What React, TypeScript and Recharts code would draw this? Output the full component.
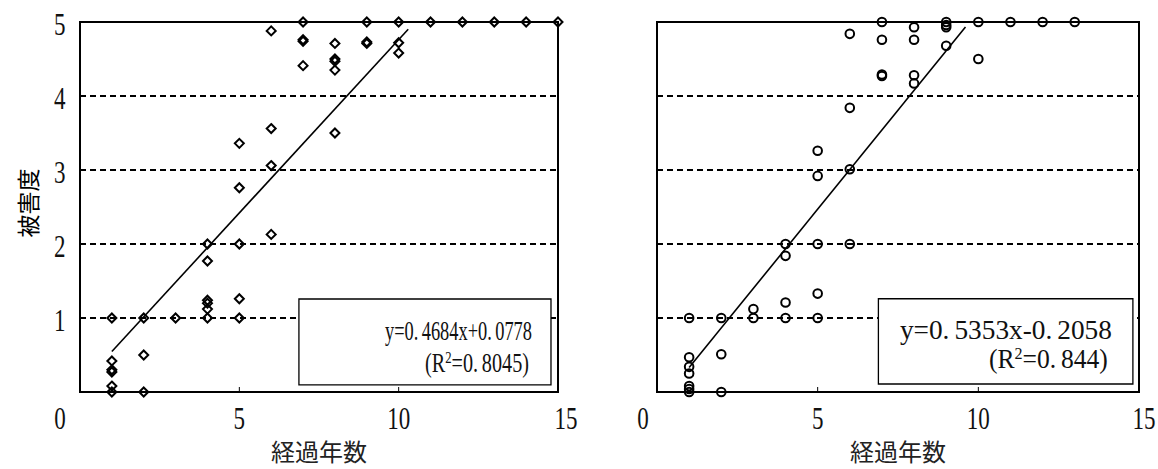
import React from "react"
import { ScatterChart, Scatter, XAxis, YAxis, CartesianGrid, ReferenceLine, ReferenceArea } from "recharts"

// axis ticks
const xTicks = [0, 5, 10, 15]
const yTicks = [0, 1, 2, 3, 4, 5]

// left panel (diamonds)
const diamondYears = [
  1, 1, 1, 1, 1, 1, 2, 2, 2, 3, 4, 4, 4, 4, 4, 4, 5, 5, 5, 5, 5, 6, 6, 6, 6,
  7, 7, 7, 7, 8, 8, 8, 8, 8, 9, 9, 9, 10, 10, 10, 11, 12, 13, 14, 15,
]
const diamondDamage = [
  1.0, 0.42, 0.3, 0.27, 0.08, 0.0, 1.0, 0.5, 0.0, 1.0, 2.0, 1.77, 1.24, 1.2, 1.12, 1.0,
  3.36, 2.76, 2.0, 1.26, 1.0, 4.88, 3.56, 3.06, 2.13, 5.0, 4.76, 4.74, 4.41,
  4.71, 4.5, 4.47, 4.35, 3.5, 5.0, 4.73, 4.71, 5.0, 4.72, 4.58, 5.0, 5.0, 5.0, 5.0, 5.0,
]
const diamondFit = [0.4684, 0.0778]
const diamondFitRange = [1, 10.3]
const diamondEquation = ["y=0.4684x+0.0778", "0.8045"]

// right panel (circles)
const circleYears = [
  1, 1, 1, 1, 1, 1, 1, 2, 2, 2, 3, 3, 4, 4, 4, 4, 5, 5, 5, 5, 5, 6, 6, 6, 6,
  7, 7, 7, 7, 8, 8, 8, 8, 9, 9, 9, 9, 10, 10, 11, 12, 13,
]
const circleDamage = [
  1.0, 0.47, 0.34, 0.25, 0.08, 0.04, 0.0, 1.0, 0.51, 0.0, 1.12, 1.0, 2.0, 1.84, 1.21, 1.0,
  3.26, 2.92, 2.0, 1.33, 1.0, 4.84, 3.84, 3.01, 2.0, 5.0, 4.76, 4.29, 4.27,
  4.93, 4.76, 4.28, 4.17, 5.0, 4.96, 4.93, 4.68, 5.0, 4.5, 5.0, 5.0, 5.0,
]
const circleFit = [0.5353, -0.2058]
const circleFitRange = [1, 9.6]
const circleEquation = ["y=0.5353x-0.2058", "0.844"]

const xTitle = "経過年数"
const yTitle = "被害度"

const SERIF = "'Liberation Serif', 'DejaVu Serif', serif"
const CJK = "'Noto Sans CJK JP', sans-serif"

const toPoints = (xs: number[], ys: number[]) => xs.map((x, i) => ({ x, y: ys[i] }))
const fitSegment = (fit: number[], range: number[]) =>
  range.map((x) => ({ x, y: fit[0] * x + fit[1] }))

const Diamond = (props: any) => {
  const { cx, cy } = props
  const r = 4.5
  return (
    <path
      d={`M${cx},${cy - r}L${cx + r},${cy}L${cx},${cy + r}L${cx - r},${cy}Z`}
      fill="none"
      stroke="#000"
      strokeWidth={2}
    />
  )
}

const Ring = (props: any) => (
  <circle cx={props.cx} cy={props.cy} r={4.3} fill="none" stroke="#000" strokeWidth={2} />
)

const makeXTick = (shift0: number, shift15: number) => (props: any) => {
  const { x, y, payload } = props
  const v = payload.value
  const label = String(v)
  const w = label.length * 11.5
  const dx = v === 0 ? shift0 : v === 15 ? shift15 : 0
  return (
    <g>
      {v > 0 && v < 15 && <line x1={x} x2={x} y1={y} y2={y - 5} stroke="#000" strokeWidth={1} />}
      <text
        x={x + dx - w / 2}
        y={y + 37}
        textLength={w}
        lengthAdjust="spacingAndGlyphs"
        fontFamily={SERIF}
        fontSize={32}
        fill="#111"
      >
        {label}
      </text>
    </g>
  )
}

const YTick = (props: any) => {
  const { x, y, payload } = props
  if (payload.value === 0) return <g />
  return (
    <text
      x={x - 26}
      y={y + 12.5}
      textLength={11.5}
      lengthAdjust="spacingAndGlyphs"
      fontFamily={SERIF}
      fontSize={32}
      fill="#111"
    >
      {payload.value}
    </text>
  )
}

const XTitle = (props: any) => {
  const vb = props.viewBox
  return (
    <text x={vb.x + vb.width / 2} y={vb.y + 69} textAnchor="middle" fontFamily={CJK} fontSize={24} style={{ fill: "#222" }}>
      {xTitle}
    </text>
  )
}

const YTitle = () => (
  <g transform="translate(29 203) rotate(-90)">
    <text
      x={0}
      y={8}
      textAnchor="middle"
      fontFamily={CJK}
      fontSize={23}
      style={{ fill: "#000", stroke: "none" }}
    >
      {yTitle}
    </text>
  </g>
)

// equation text, with the wide gap after each decimal point as in the original
const spaced = (s: string) => {
  const parts = s.split(".")
  return parts.map((part, i) => (
    <tspan key={i} dx={i ? 5 : 0}>
      {part}
      {i < parts.length - 1 ? "." : ""}
    </tspan>
  ))
}

const makeBox = (eq: string[], w1: number, w2: number, r1: number, r2: number, b1: number, b2: number) =>
  (props: any) => {
    const vb = props.viewBox
    const right = vb.x + vb.width
    return (
      <g fontFamily={SERIF} fontSize={27} style={{ fill: "#111" }}>
        <text x={right - r1 - w1} y={vb.y + b1} textLength={w1} lengthAdjust="spacingAndGlyphs">
          {spaced(eq[0])}
        </text>
        <text x={right - r2 - w2} y={vb.y + b2} textLength={w2} lengthAdjust="spacingAndGlyphs">
          (R<tspan fontSize={17} dy={-9}>2</tspan>
          <tspan dy={9}>=</tspan>
          {spaced(eq[1])}
          <tspan>)</tspan>
        </text>
      </g>
    )
  }

const Panel = (p: any) => (
  <ScatterChart width={p.width} height={469} margin={{ top: 22, right: p.right, bottom: 20, left: p.left }}>
    <CartesianGrid vertical={false} stroke="#000" strokeWidth={1.2} strokeDasharray="6 4" shapeRendering="crispEdges" />
    <XAxis
      type="number"
      dataKey="x"
      domain={[0, 15]}
      ticks={xTicks}
      height={57}
      axisLine={false}
      tickLine={false}
      tickSize={0}
      tickMargin={0}
      tick={p.xTick}
      label={XTitle}
    />
    <YAxis
      type="number"
      dataKey="y"
      domain={[0, 5]}
      ticks={yTicks}
      width={60}
      axisLine={false}
      tickLine={false}
      tickSize={0}
      tickMargin={0}
      tick={p.showY ? YTick : () => <g />}
      label={p.showY ? YTitle : undefined}
    />
    <ReferenceArea x1={0} x2={15} y1={0} y2={5} fill="none" stroke="#000" strokeWidth={2} />
    <ReferenceArea
      x1={p.box[0]}
      x2={p.box[1]}
      y1={p.box[2]}
      y2={p.box[3]}
      fill="#fff"
      fillOpacity={1}
      stroke="#000"
      strokeWidth={1.3}
      label={p.boxLabel}
    />
    <ReferenceLine segment={p.segment} stroke="#000" strokeWidth={1.6} />
    <Scatter data={p.data} shape={p.shape} isAnimationActive={false} />
  </ScatterChart>
)

export default function App() {
  return (
    <div style={{ position: "absolute", left: 0, top: 0, width: 1158, height: 469, background: "#fff" }}>
      <div style={{ position: "absolute", left: 0, top: 0 }}>
        <Panel
          width={580}
          left={20}
          right={22}
          showY
          xTick={makeXTick(-20, 8)}
          data={toPoints(diamondYears, diamondDamage)}
          shape={Diamond}
          segment={fitSegment(diamondFit, diamondFitRange)}
          box={[6.87, 14.78, 0.095, 1.257]}
          boxLabel={makeBox(diamondEquation, 147, 104, 19, 22, 41, 73)}
        />
      </div>
      <div style={{ position: "absolute", left: 580, top: 0 }}>
        <Panel
          width={578}
          left={17}
          right={19}
          showY={false}
          xTick={makeXTick(-14, 5)}
          data={toPoints(circleYears, circleDamage)}
          shape={Ring}
          segment={fitSegment(circleFit, circleFitRange)}
          box={[6.89, 14.81, 0.108, 1.26]}
          boxLabel={makeBox(circleEquation, 212, 119, 21, 25, 40, 69)}
        />
      </div>
    </div>
  )
}
